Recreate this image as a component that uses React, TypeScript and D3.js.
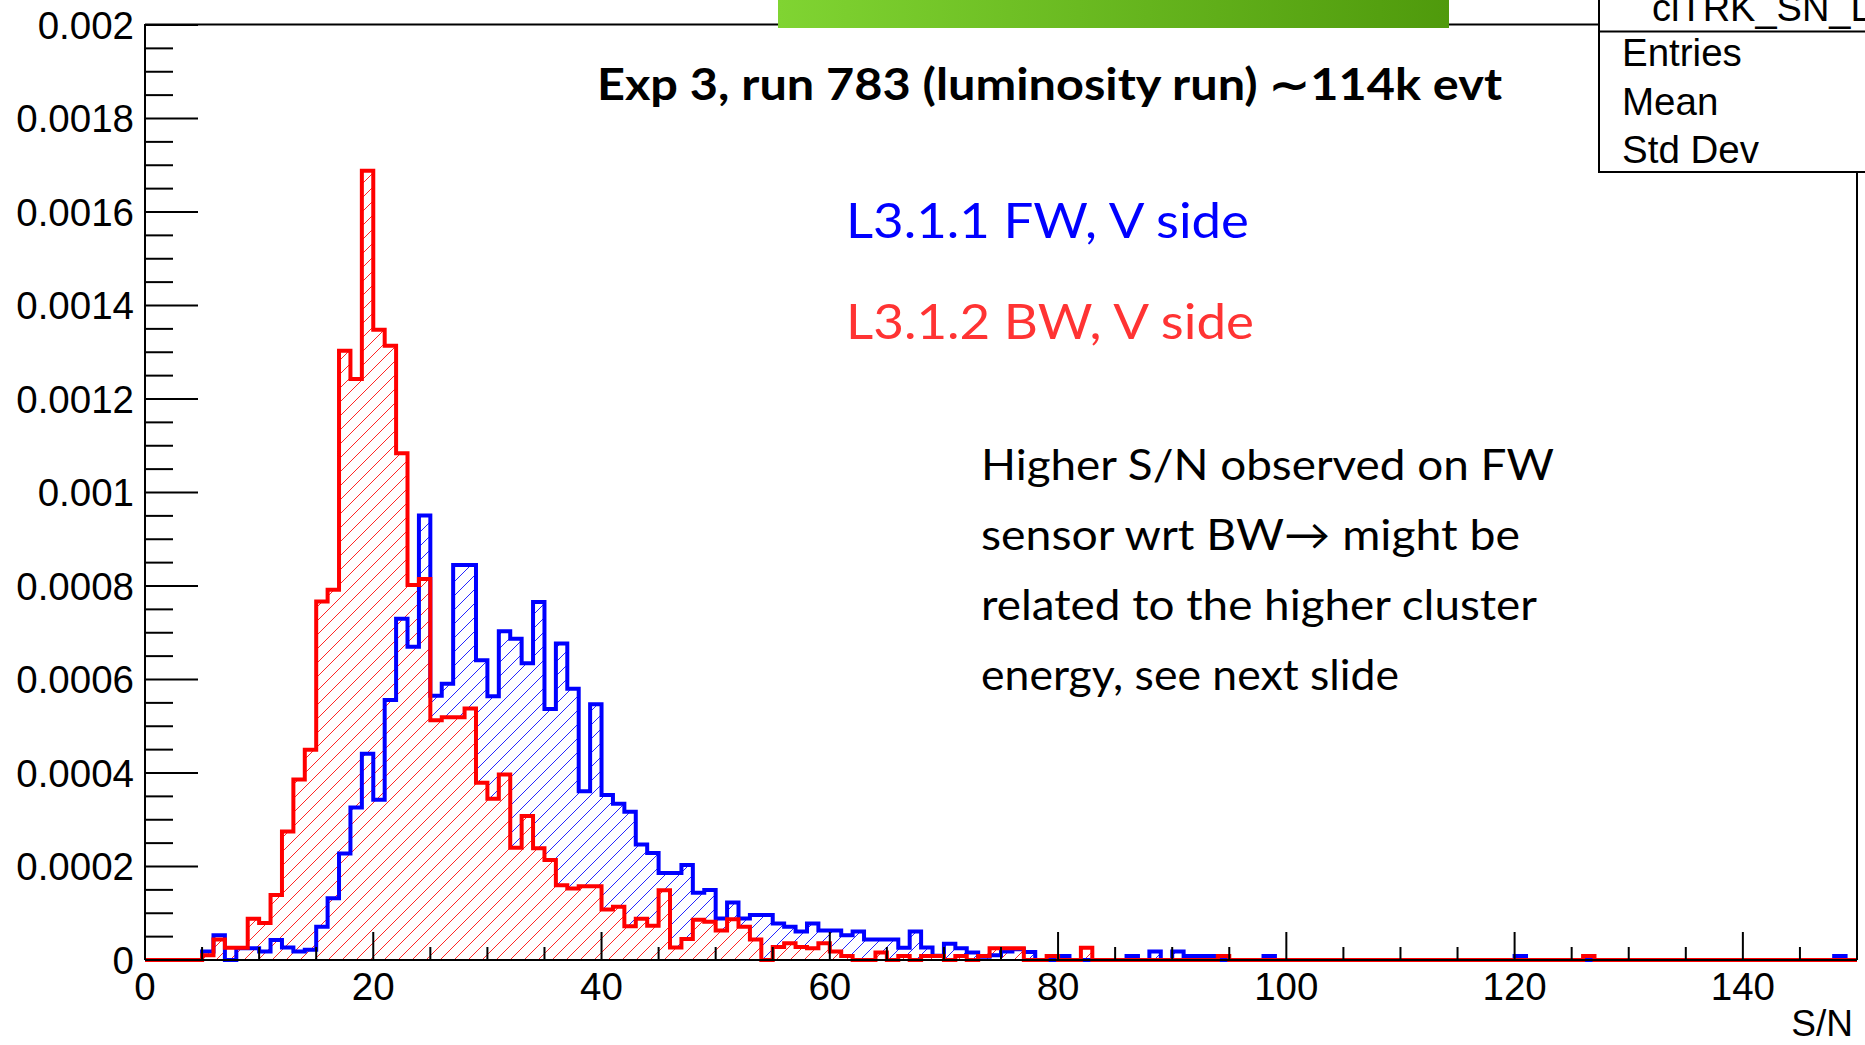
import React from "react";
import * as d3 from "d3";

const WIDTH = 1865;
const HEIGHT = 1045;

// S/N histogram binning: 150 bins from 0 to 150
const X_MIN = 0;
const X_MAX = 150;
const N_BINS = 150;
const binLowEdges = d3.range(N_BINS).map((i) => X_MIN + (i * (X_MAX - X_MIN)) / N_BINS);

// bin contents (normalised), in units of 1e-4
const VALUE_UNIT = 1e-4;
const fwValues = [
  0, 0, 0, 0, 0, 0.18, 0.53, 0, 0.25, 0.25,
  0.18, 0.43, 0.27, 0.18, 0.22, 0.71, 1.32, 2.28, 3.26, 4.41,
  3.43, 5.56, 7.3, 6.7, 9.51, 5.65, 5.91, 8.45, 8.45, 6.41,
  5.64, 7.03, 6.87, 6.35, 7.66, 5.37, 6.77, 5.8, 3.61, 5.47,
  3.53, 3.34, 3.17, 2.47, 2.29, 1.86, 1.86, 2.03, 1.44, 1.5,
  0.89, 1.23, 0.89, 0.96, 0.96, 0.78, 0.71, 0.61, 0.78, 0.63,
  0.63, 0.53, 0.61, 0.44, 0.44, 0.44, 0.26, 0.61, 0.27, 0.09,
  0.35, 0.25, 0.16, 0.07, 0.1, 0.18, 0.23, 0.17, 0, 0,
  0.085, 0, 0, 0, 0, 0, 0.085, 0, 0.18, 0,
  0.18, 0.085, 0.085, 0.085, 0, 0, 0, 0, 0.085, 0,
  0, 0, 0, 0, 0, 0, 0, 0, 0, 0,
  0, 0, 0, 0, 0, 0, 0, 0, 0, 0,
  0.085, 0, 0, 0, 0, 0, 0, 0, 0, 0,
  0, 0, 0, 0, 0, 0, 0, 0, 0, 0,
  0, 0, 0, 0, 0, 0, 0, 0, 0.085, 0,
];
const bwValues = [
  0, 0, 0, 0, 0, 0.1, 0.44, 0.26, 0.26, 0.88,
  0.79, 1.39, 2.75, 3.86, 4.5, 7.67, 7.92, 13.03, 12.43, 16.88,
  13.48, 13.14, 10.84, 8.02, 8.15, 5.13, 5.19, 5.19, 5.38, 3.79,
  3.45, 3.97, 2.4, 3.08, 2.39, 2.14, 1.6, 1.53, 1.58, 1.58,
  1.08, 1.14, 0.72, 0.88, 0.73, 1.49, 0.27, 0.45, 0.86, 0.82,
  0.63, 0.87, 0.71, 0.44, 0, 0.28, 0.36, 0.28, 0.25, 0.36,
  0.18, 0.085, 0, 0, 0.16, 0, 0.085, 0, 0.085, 0.085,
  0, 0.085, 0, 0.085, 0.25, 0.25, 0.25, 0, 0, 0.085,
  0, 0, 0.26, 0, 0, 0, 0, 0, 0, 0,
  0, 0, 0, 0, 0.085, 0, 0, 0, 0, 0,
  0, 0, 0, 0, 0, 0, 0, 0, 0, 0,
  0, 0, 0, 0, 0, 0, 0, 0, 0, 0,
  0, 0, 0, 0, 0, 0, 0.085, 0, 0, 0,
  0, 0, 0, 0, 0, 0, 0, 0, 0, 0,
  0, 0, 0, 0, 0, 0, 0, 0, 0, 0,
];

const xTickValues = [0, 20, 40, 60, 80, 100, 120, 140];
const xTickLabels = ["0", "20", "40", "60", "80", "100", "120", "140"];
const xMinorStep = 5;
const yTickValues = [0, 0.0002, 0.0004, 0.0006, 0.0008, 0.001, 0.0012, 0.0014, 0.0016, 0.0018, 0.002];
const yTickLabels = ["0", "0.0002", "0.0004", "0.0006", "0.0008", "0.001", "0.0012", "0.0014", "0.0016", "0.0018", "0.002"];
const yMinorStep = 0.00005;

const titleText = "Exp 3, run 783 (luminosity run) \u223C114k evt";
const legendLabels = ["L3.1.1 FW, V side", "L3.1.2 BW, V side"];
const annotationLines = [
  "Higher S/N observed on FW",
  "sensor wrt BW\u2192 might be",
  "related to the higher cluster",
  "energy, see next slide",
];
const statsTitle = "clTRK_SN_L3.1.1_V";
const statsLabels = ["Entries", "Mean", "Std Dev"];
const xAxisTitle = "S/N";

const BLUE = "#0000ff";
const RED = "#ff0000";

export default function App() {
  const x = d3.scaleLinear().domain([X_MIN, X_MAX]).range([145, 1857]);
  const y = d3.scaleLinear().domain([0, 0.002]).range([960, 25]);

  const toPoints = (vals: number[]): [number, number][] => [
    ...vals.map((v, i) => [binLowEdges[i], v * VALUE_UNIT] as [number, number]),
    [X_MAX, vals[vals.length - 1] * VALUE_UNIT],
  ];
  const line = d3
    .line<[number, number]>()
    .x((d) => x(d[0]))
    .y((d) => y(d[1]))
    .curve(d3.curveStepAfter);
  const area = d3
    .area<[number, number]>()
    .x((d) => x(d[0]))
    .y0(y(0))
    .y1((d) => y(d[1]))
    .curve(d3.curveStepAfter);

  const fwPts = toPoints(fwValues);
  const bwPts = toPoints(bwValues);

  const xMinor = d3.range(X_MIN, X_MAX + 0.001, xMinorStep).filter((v) => !xTickValues.includes(v));
  const yMinor = d3
    .range(0, 0.002 + 1e-9, yMinorStep)
    .filter((v) => !yTickValues.some((t) => Math.abs(t - v) < 1e-9));

  const hs = 14; // hatch spacing
  const hatchPath = `M0,${hs} L${hs},0 M${-hs / 2},${hs / 2} L${hs / 2},${-hs / 2} M${hs / 2},${hs * 1.5} L${hs * 1.5},${hs / 2}`;

  const axisFont = "'Liberation Sans', Arial, Helvetica, sans-serif";
  const slideFont = "Lato, 'Liberation Sans', sans-serif";
  const x0 = x(X_MIN);
  const x1 = x(X_MAX);
  const yb = y(0);
  const yt = y(0.002);

  return (
    <svg
      width={WIDTH}
      height={HEIGHT}
      viewBox={`0 0 ${WIDTH} ${HEIGHT}`}
      style={{ position: "absolute", left: 0, top: 0, display: "block", background: "#ffffff" }}
    >
      <defs>
        <pattern id="hatchBlue" patternUnits="userSpaceOnUse" width={hs} height={hs}>
          <path d={hatchPath} stroke={BLUE} strokeWidth={1} strokeOpacity={0.85} />
        </pattern>
        <pattern id="hatchRed" patternUnits="userSpaceOnUse" width={hs} height={hs}>
          <path d={hatchPath} stroke={RED} strokeWidth={1} strokeOpacity={0.85} />
        </pattern>
        <linearGradient id="greenBar" x1="0" x2="1" y1="0" y2="0">
          <stop offset="0" stopColor="#80d432" />
          <stop offset="1" stopColor="#4f9a0c" />
        </linearGradient>
      </defs>
      <rect x={0} y={0} width={WIDTH} height={HEIGHT} fill="#ffffff" />

      {/* frame */}
      <line x1={x0} x2={1599} y1={yt - 0.5} y2={yt - 0.5} stroke="#000" strokeWidth={2} />
      <line x1={x1} x2={x1} y1={yt} y2={yb} stroke="#000" strokeWidth={2} />

      {/* histograms: FW hatch, then BW covers it with its own hatch, outlines on top */}
      <path d={area(fwPts) ?? ""} fill="url(#hatchBlue)" />
      <path d={area(bwPts) ?? ""} fill="#ffffff" />
      <path d={area(bwPts) ?? ""} fill="url(#hatchRed)" />
      <path d={line(fwPts) ?? ""} fill="none" stroke={BLUE} strokeWidth={4} />
      <path d={line(bwPts) ?? ""} fill="none" stroke={RED} strokeWidth={4} />

      {/* axes */}
      <line x1={x0} x2={x0} y1={yt - 1} y2={yb} stroke="#000" strokeWidth={2} />
      <line x1={x0} x2={x1} y1={yb} y2={yb} stroke="#000" strokeWidth={2} />
      {yTickValues.map((v) => (
        <line key={`ym${v}`} x1={x0} x2={x0 + 53} y1={y(v)} y2={y(v)} stroke="#000" strokeWidth={2} />
      ))}
      {yMinor.map((v) => (
        <line key={`yn${v}`} x1={x0} x2={x0 + 28} y1={y(v)} y2={y(v)} stroke="#000" strokeWidth={2} />
      ))}
      {xTickValues.map((v) => (
        <line key={`xm${v}`} x1={x(v)} x2={x(v)} y1={yb} y2={yb - 28} stroke="#000" strokeWidth={2} />
      ))}
      {xMinor.map((v) => (
        <line key={`xn${v}`} x1={x(v)} x2={x(v)} y1={yb} y2={yb - 13} stroke="#000" strokeWidth={2} />
      ))}
      {yTickValues.map((v, i) => (
        <text key={`yl${v}`} x={134} y={y(v) + 13.5} textAnchor="end" fontFamily={axisFont} fontSize={38.5} fill="#000">
          {yTickLabels[i]}
        </text>
      ))}
      {xTickValues.map((v, i) => (
        <text key={`xl${v}`} x={x(v)} y={1000} textAnchor="middle" fontFamily={axisFont} fontSize={38.5} fill="#000">
          {xTickLabels[i]}
        </text>
      ))}
      <text x={1853} y={1036} textAnchor="end" fontFamily={axisFont} fontSize={37} fill="#000">
        {xAxisTitle}
      </text>

      {/* stats box */}
      <rect x={1599} y={-5} width={300} height={177} fill="#ffffff" stroke="#000" strokeWidth={2} />
      <line x1={1599} x2={WIDTH} y1={31.5} y2={31.5} stroke="#000" strokeWidth={2} />
      <text x={1652} y={21} fontFamily={axisFont} fontSize={38} fill="#000">
        {statsTitle}
      </text>
      {statsLabels.map((s, i) => (
        <text key={s} x={1622} y={66 + i * 48.6} fontFamily={axisFont} fontSize={38.5} fill="#000">
          {s}
        </text>
      ))}

      {/* slide overlay */}
      <rect x={778} y={0} width={671} height={28} fill="url(#greenBar)" />
      <text x={597} y={100} fontFamily={slideFont} fontWeight="bold" fontSize={44} textLength={905} lengthAdjust="spacingAndGlyphs" fill="#000">
        {titleText}
      </text>
      <text x={846} y={238} fontFamily={slideFont} fontSize={48} textLength={403} lengthAdjust="spacingAndGlyphs" fill="#0000ff">
        {legendLabels[0]}
      </text>
      <text x={846} y={339} fontFamily={slideFont} fontSize={48} textLength={408} lengthAdjust="spacingAndGlyphs" fill="#ff3333">
        {legendLabels[1]}
      </text>
      {annotationLines.map((t, i) => {
        const lens = [573, 539, 556, 418];
        const ys = [480, 549.5, 620, 690];
        return (
          <text key={t} x={981} y={ys[i]} fontFamily={slideFont} fontSize={43} textLength={lens[i]} lengthAdjust="spacingAndGlyphs" fill="#000">
            {t}
          </text>
        );
      })}
    </svg>
  );
}
